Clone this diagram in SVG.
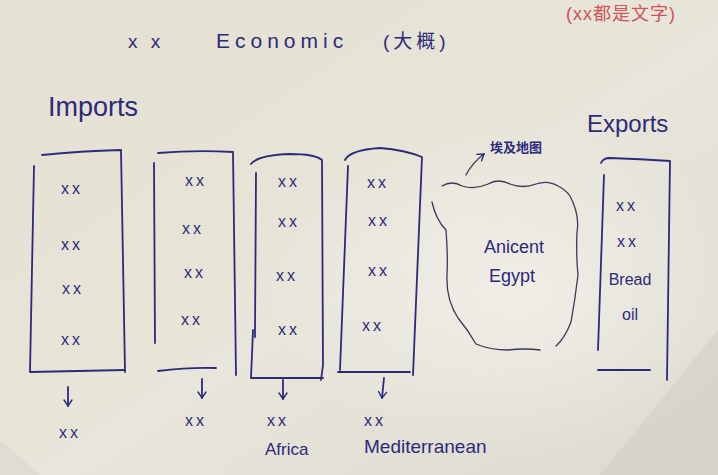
<svg xmlns="http://www.w3.org/2000/svg" width="718" height="475" viewBox="0 0 718 475">
<defs>
<linearGradient id="paper" x1="0" y1="0" x2="1" y2="1">
<stop offset="0" stop-color="#e4e0d2"/>
<stop offset="0.55" stop-color="#e8e5da"/>
<stop offset="1" stop-color="#dcd9cf"/>
</linearGradient>
<radialGradient id="light" cx="0.72" cy="0.62" r="0.35">
<stop offset="0" stop-color="#f1efe9" stop-opacity="0.9"/>
<stop offset="1" stop-color="#f1efe9" stop-opacity="0"/>
</radialGradient>
<marker id="ah" viewBox="0 0 10 10" refX="9" refY="5" markerWidth="10" markerHeight="10" orient="auto" markerUnits="userSpaceOnUse">
<path d="M3,1 L9,5 L3,9" fill="none" stroke="#2d2a7a" stroke-width="1.4" stroke-linecap="round"/>
</marker>
<style>
.ink{fill:none;stroke:#2d2a7a;stroke-width:1.8;stroke-linecap:round;stroke-linejoin:round}
.pen{fill:none;stroke:#3a3a55;stroke-width:1.3;stroke-linecap:round}
.t{font-family:"Liberation Sans","Noto Sans CJK SC",sans-serif;fill:#2d2a7a}
.xx{font-size:16px;text-anchor:middle;letter-spacing:3px}
.red{fill:#d0525a}
</style>
</defs>
<rect width="718" height="475" fill="url(#paper)"/>
<rect width="718" height="475" fill="url(#light)"/>
<path d="M600,475 L718,330 L718,475 Z" fill="#cfccc4" opacity="0.5"/>
<path d="M0,440 L40,475 L0,475 Z" fill="#d6d3ca" opacity="0.5"/>

<g id="title">
<text class="t" x="128" y="48" font-size="19" letter-spacing="4">x x</text>
<text class="t" x="216" y="48" font-size="21" letter-spacing="5">Economic</text>
<text class="t" x="383" y="48" font-size="19" letter-spacing="4">(大概)</text>
</g>
<g id="note">
<text class="t red" x="566" y="20" font-size="18" letter-spacing="1">(xx都是文字)</text>
</g>
<g id="imports-label">
<text class="t" x="48" y="116" font-size="27">Imports</text>
</g>
<g id="exports-label">
<text class="t" x="587" y="132" font-size="24">Exports</text>
</g>

<g id="col1">
<path class="ink" d="M42,155 Q80,151 121,150 L125,372"/>
<path class="ink" d="M34,166 L30,372 L125,370"/>
<text class="t xx" x="72" y="194">xx</text>
<text class="t xx" x="72" y="250">xx</text>
<text class="t xx" x="73" y="294">xx</text>
<text class="t xx" x="72" y="345">xx</text>
</g>
<g id="col2">
<path class="ink" d="M158,153 Q195,150 233,152 L236,375"/>
<path class="ink" d="M154,163 L155,343"/>
<path class="ink" d="M158,371 Q190,367 216,368"/>
<text class="t xx" x="196" y="186">xx</text>
<text class="t xx" x="193" y="234">xx</text>
<text class="t xx" x="195" y="278">xx</text>
<text class="t xx" x="192" y="325">xx</text>
</g>
<g id="col3">
<path class="ink" d="M251,164 Q258,155 290,154 Q315,154 322,160 L323,365 L321,380"/>
<path class="ink" d="M256,173 L255,337"/>
<path class="ink" d="M253,330 L251,378 L323,378"/>
<text class="t xx" x="289" y="187">xx</text>
<text class="t xx" x="289" y="227">xx</text>
<text class="t xx" x="287" y="281">xx</text>
<text class="t xx" x="289" y="335">xx</text>
</g>
<g id="col4">
<path class="ink" d="M345,160 Q350,150 380,148 Q405,150 422,157 L413,375"/>
<path class="ink" d="M348,166 L340,370"/>
<path class="ink" d="M338,372 L410,372"/>
<text class="t xx" x="378" y="188">xx</text>
<text class="t xx" x="379" y="226">xx</text>
<text class="t xx" x="379" y="276">xx</text>
<text class="t xx" x="373" y="331">xx</text>
</g>

<g id="egypt">
<path class="pen" d="M442,186 Q452,180 462,186 Q475,190 488,184 Q498,178 510,184 Q523,189 536,184 Q548,180 558,186 Q566,190 570,196 Q580,215 577,232 Q576,255 578,275 Q575,300 571,322 Q565,338 556,346"/>
<path class="pen" d="M432,202 Q436,220 446,230 Q448,255 447,275 Q446,300 458,318 Q468,330 476,344 Q490,350 508,350 Q525,348 540,350"/>
<text class="t" x="514" y="253" font-size="18" text-anchor="middle">Anicent</text>
<text class="t" x="512" y="282" font-size="18" text-anchor="middle">Egypt</text>
</g>
<g id="map-label">
<text class="t" x="490" y="152" font-size="13" font-weight="bold">埃及地图</text>
</g>

<g id="exports">
<path class="ink" d="M601,163 Q603,158 610,158 Q640,159 670,161 L667,380"/>
<path class="ink" d="M604,175 L598,350"/>
<path class="ink" d="M598,370 L650,370"/>
<text class="t xx" x="627" y="211">xx</text>
<text class="t xx" x="628" y="247">xx</text>
<text class="t" x="630" y="285" font-size="16" text-anchor="middle">Bread</text>
<text class="t" x="630" y="320" font-size="16" text-anchor="middle">oil</text>
</g>

<g id="out1"><text class="t xx" x="70" y="438">xx</text></g>
<g id="out2"><text class="t xx" x="196" y="426">xx</text></g>
<g id="out3"><text class="t xx" x="278" y="426">xx</text><text class="t" x="265" y="455" font-size="17">Africa</text></g>
<g id="out4"><text class="t xx" x="375" y="426">xx</text><text class="t" x="364" y="453" font-size="19">Mediterranean</text></g>

<g id="connectors">
<path class="ink" d="M68,387 L68,406" marker-end="url(#ah)"/>
<path class="ink" d="M202,379 L202,398" marker-end="url(#ah)"/>
<path class="ink" d="M283,380 L283,399" marker-end="url(#ah)"/>
<path class="ink" d="M384,378 L382,398" marker-end="url(#ah)"/>
<path class="pen" d="M466,175 Q472,163 484,154" marker-end="url(#ah)"/>
</g>
</svg>
